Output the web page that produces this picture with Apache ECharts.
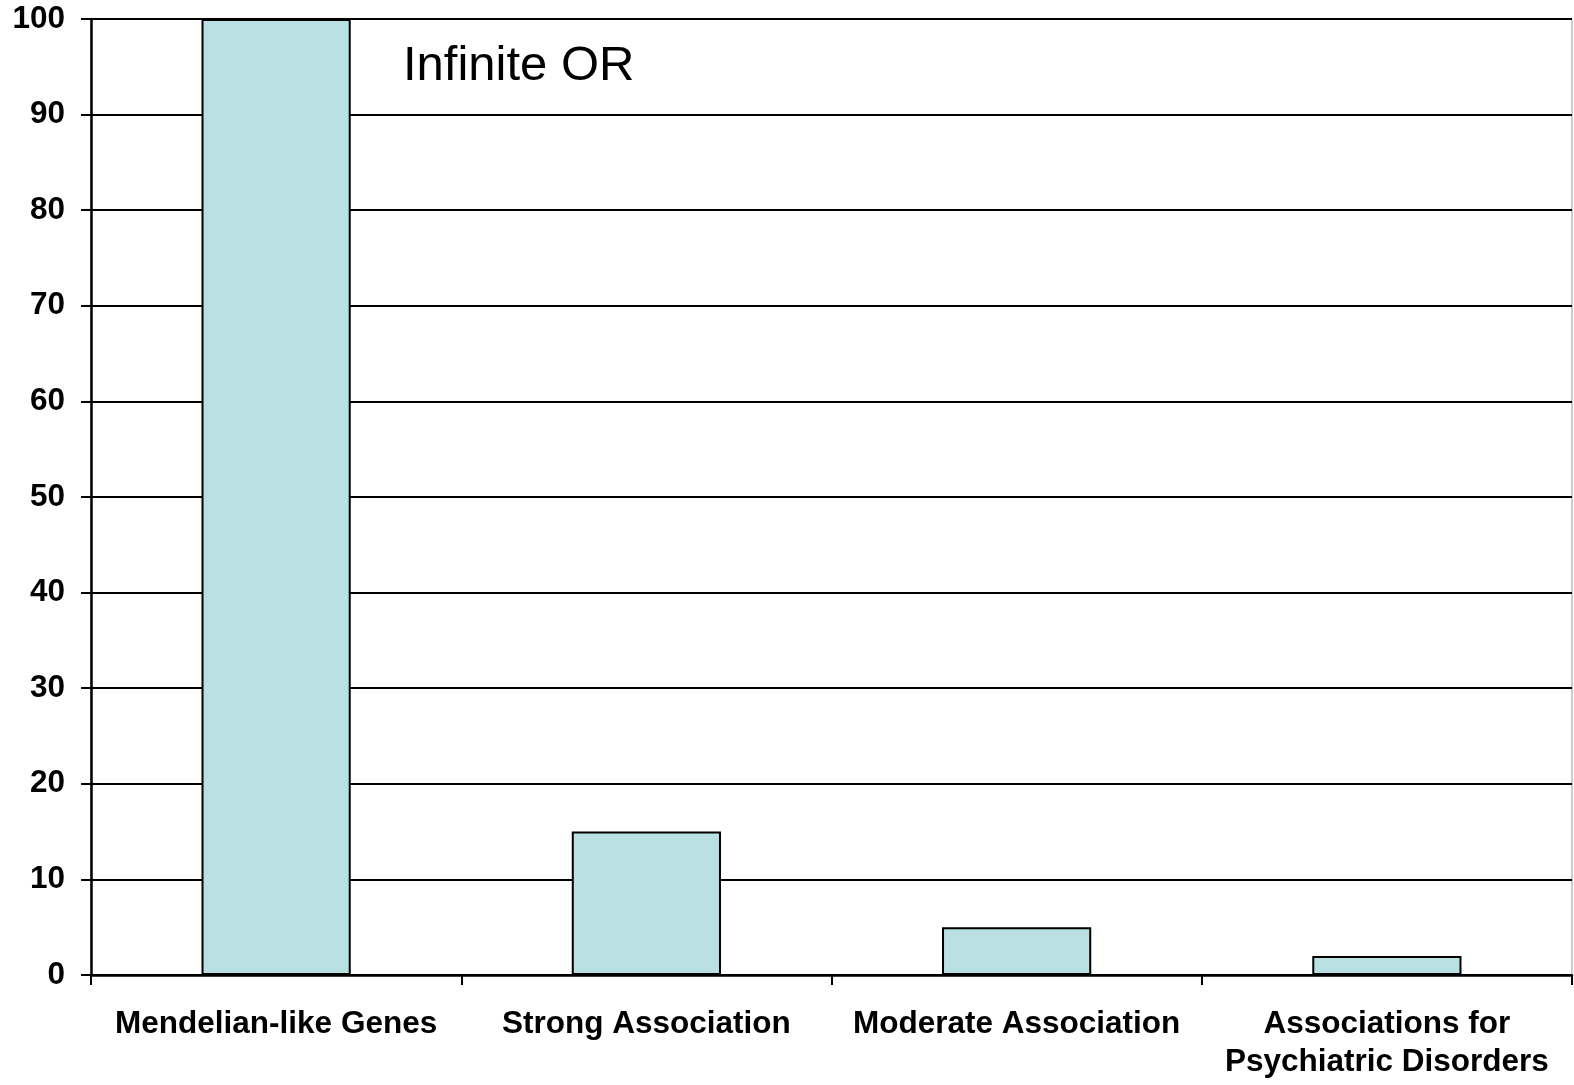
<!DOCTYPE html>
<html>
<head>
<meta charset="utf-8">
<script src="https://cdn.jsdelivr.net/npm/echarts@6/dist/echarts.min.js"></script>
<style>
  html, body { margin: 0; padding: 0; background: #fff; }
  #chart { width: 1574px; height: 1085px; }
</style>
</head>
<body>
<div id="chart"></div>
<script>
// Odds ratio by class of genetic association
const categories = [
  'Mendelian-like Genes',
  'Strong Association',
  'Moderate Association',
  'Associations for\nPsychiatric Disorders'
];
const oddsRatios = [100, 15, 5, 2];
const yTicks = { min: 0, max: 100, interval: 10 };

const chart = echarts.init(document.getElementById('chart'));
chart.setOption({
  animation: false,
  backgroundColor: '#ffffff',
  textStyle: { fontFamily: 'Liberation Sans, Arial, sans-serif' },
  grid: {
    left: 91, right: 2, top: 19, bottom: 110,
    show: true, borderColor: '#999999', borderWidth: 1, backgroundColor: 'transparent'
  },
  graphic: [{
    type: 'text',
    left: 403, top: 42,
    style: {
      text: 'Infinite OR',
      font: '49px "Liberation Sans", Arial, sans-serif',
      fill: '#000'
    },
    z: 100
  }],
  xAxis: {
    type: 'category',
    data: categories,
    boundaryGap: true,
    axisLine: { show: true, lineStyle: { color: '#000', width: 2.5 } },
    axisTick: { show: true, length: 10, lineStyle: { color: '#000', width: 2 } },
    axisLabel: {
      color: '#000', fontWeight: 'bold', fontSize: 31.5, margin: 30,
      lineHeight: 38, interval: 0
    }
  },
  yAxis: {
    type: 'value',
    min: yTicks.min, max: yTicks.max, interval: yTicks.interval,
    axisLine: { show: true, lineStyle: { color: '#000', width: 2.5 } },
    axisTick: { show: true, length: 10, lineStyle: { color: '#000', width: 2 } },
    axisLabel: { color: '#000', fontWeight: 'bold', fontSize: 31.5, margin: 26 },
    splitLine: { show: true, lineStyle: { color: '#000', width: 2 } }
  },
  series: [{
    type: 'bar',
    data: oddsRatios,
    barWidth: '40.3%',
    itemStyle: { color: '#b9e0e3', borderColor: '#000', borderWidth: 2 },
    z: 3
  }]
});
</script>
</body>
</html>
